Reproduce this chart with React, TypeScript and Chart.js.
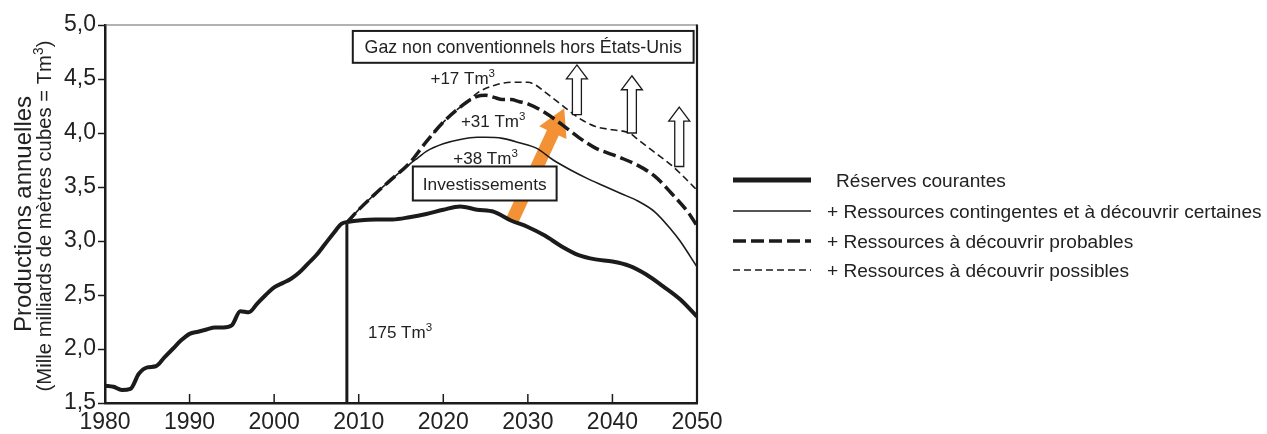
import React, { useEffect, useRef } from "react";
import { Chart, registerables } from "chart.js";

Chart.register(...registerables);

// ---------- DATA ----------
const reserveYears = [1980, 1981, 1982, 1983, 1984, 1985, 1986, 1987, 1988, 1989, 1990, 1991, 1992, 1993, 1994, 1995, 1996, 1997, 1998, 1999, 2000, 2001, 2002, 2003, 2004, 2005, 2006, 2007, 2008, 2009, 2010, 2012, 2014, 2016, 2018, 2020, 2022, 2024, 2026, 2028, 2030, 2032, 2034, 2036, 2038, 2040, 2042, 2044, 2046, 2048, 2050];
const reserveValues = [1.66, 1.65, 1.62, 1.63, 1.77, 1.83, 1.84, 1.92, 2.0, 2.08, 2.14, 2.16, 2.18, 2.2, 2.2, 2.22, 2.35, 2.34, 2.42, 2.5, 2.57, 2.61, 2.65, 2.71, 2.79, 2.87, 2.97, 3.07, 3.16, 3.18, 3.19, 3.2, 3.2, 3.22, 3.25, 3.29, 3.32, 3.29, 3.27, 3.19, 3.13, 3.05, 2.95, 2.87, 2.83, 2.81, 2.77, 2.69, 2.58, 2.46, 2.3];

const contYears = [2008.6, 2010, 2012, 2014, 2016, 2017, 2018, 2020, 2022, 2024, 2025, 2027, 2029, 2031, 2033, 2035, 2037, 2039, 2041, 2043, 2045, 2047, 2048, 2050];
const contValues = [3.17, 3.29, 3.44, 3.58, 3.71, 3.77, 3.83, 3.9, 3.94, 3.96, 3.96, 3.95, 3.91, 3.86, 3.75, 3.66, 3.58, 3.51, 3.44, 3.37, 3.27, 3.1, 3.0, 2.76];

const probYears = [2008.6, 2010, 2012, 2014, 2016, 2018, 2020, 2022, 2024, 2025, 2026, 2027, 2028, 2029, 2030, 2032, 2034, 2036, 2038, 2040, 2041, 2043, 2045, 2047, 2049, 2050];
const probValues = [3.17, 3.29, 3.44, 3.58, 3.72, 3.92, 4.1, 4.24, 4.34, 4.35, 4.33, 4.31, 4.31, 4.29, 4.27, 4.19, 4.08, 3.96, 3.86, 3.8, 3.77, 3.7, 3.6, 3.44, 3.26, 3.14];

const possYears = [2018, 2020, 2022, 2023, 2024, 2026, 2028, 2030, 2031, 2032, 2034, 2036, 2038, 2040, 2042, 2043, 2045, 2047, 2049, 2050];
const possValues = [3.92, 4.1, 4.24, 4.3, 4.37, 4.44, 4.47, 4.47, 4.44, 4.38, 4.26, 4.14, 4.06, 4.03, 4.0, 3.94, 3.82, 3.7, 3.55, 3.47];

const seriesLabels = [
  "Réserves courantes",
  "+ Ressources contingentes et à découvrir certaines",
  "+ Ressources à découvrir probables",
  "+ Ressources à découvrir possibles",
];

const xTickYears = [1980, 1990, 2000, 2010, 2020, 2030, 2040, 2050];
const yMin = 1.5;
const yMax = 5.0;
const yStep = 0.5;

const yTitle1 = "Productions annuelles";
const yTitle2 = "(Mille milliards de mètres cubes = Tm";
const boxTitle = "Gaz non conventionnels hors États-Unis";
const boxInvest = "Investissements";
const addLabels = ["+17 Tm", "+31 Tm", "+38 Tm"];
const reserveLabel = "175 Tm";
const cutoffYear = 2008.6;
const cutoffValue = 3.16;

// ---------- STYLE ----------
const FONT = '"Liberation Sans", Arial, Helvetica, sans-serif';
const INK = "#1b1b1b";
const ORANGE = "#F39135";

const pts = (xs: number[], ys: number[]) => xs.map((x, i) => ({ x, y: ys[i] }));

type Seg = { t: string; sup?: boolean };

function drawRich(ctx: CanvasRenderingContext2D, segs: Seg[], x: number, y: number, size: number, align: "left" | "center" | "right") {
  const supSize = size * 0.68;
  let total = 0;
  const widths = segs.map((s) => {
    ctx.font = `${s.sup ? supSize : size}px ${FONT}`;
    const w = ctx.measureText(s.t).width;
    total += w;
    return w;
  });
  let cx = align === "left" ? x : align === "center" ? x - total / 2 : x - total;
  ctx.textAlign = "left";
  ctx.textBaseline = "alphabetic";
  const base = y + size * 0.36;
  segs.forEach((s, i) => {
    ctx.font = `${s.sup ? supSize : size}px ${FONT}`;
    ctx.fillText(s.t, cx, s.sup ? base - size * 0.42 : base);
    cx += widths[i];
  });
}

function hollowArrow(ctx: CanvasRenderingContext2D, cx: number, tipY: number, bottomY: number) {
  const hw = 10.5, sw = 4.5, hl = 14;
  ctx.beginPath();
  ctx.moveTo(cx, tipY);
  ctx.lineTo(cx + hw, tipY + hl);
  ctx.lineTo(cx + sw, tipY + hl);
  ctx.lineTo(cx + sw, bottomY);
  ctx.lineTo(cx - sw, bottomY);
  ctx.lineTo(cx - sw, tipY + hl);
  ctx.lineTo(cx - hw, tipY + hl);
  ctx.closePath();
  ctx.fillStyle = "#fff";
  ctx.fill();
  ctx.strokeStyle = INK;
  ctx.lineWidth = 1.3;
  ctx.stroke();
}

const behindPlugin = {
  id: "behind",
  beforeDatasetsDraw(chart: any) {
    const { ctx, scales } = chart;
    const x = scales.x, y = scales.y;
    const tx = x.getPixelForValue(2028.2), ty = y.getPixelForValue(3.2);
    const hx = x.getPixelForValue(2034.3), hy = y.getPixelForValue(4.23);
    const dx = hx - tx, dy = hy - ty;
    const len = Math.hypot(dx, dy);
    const ux = dx / len, uy = dy / len;
    const nx = -uy, ny = ux;
    const sw = 6.5, hw = 15, hl = 27;
    const bx = hx - ux * hl, by = hy - uy * hl;
    ctx.save();
    ctx.beginPath();
    ctx.moveTo(tx + nx * sw, ty + ny * sw);
    ctx.lineTo(bx + nx * sw, by + ny * sw);
    ctx.lineTo(bx + nx * hw, by + ny * hw);
    ctx.lineTo(hx, hy);
    ctx.lineTo(bx - nx * hw, by - ny * hw);
    ctx.lineTo(bx - nx * sw, by - ny * sw);
    ctx.lineTo(tx - nx * sw, ty - ny * sw);
    ctx.closePath();
    ctx.fillStyle = ORANGE;
    ctx.fill();
    ctx.restore();
  },
};

const overlayPlugin = {
  id: "overlay",
  afterDatasetsDraw(chart: any) {
    const { ctx, chartArea: ca, scales } = chart;
    const x = scales.x, y = scales.y;
    const px = (v: number) => x.getPixelForValue(v);
    const py = (v: number) => y.getPixelForValue(v);
    ctx.save();

    // frame: top and right
    ctx.strokeStyle = "#666";
    ctx.lineWidth = 1.2;
    ctx.beginPath();
    ctx.moveTo(ca.left, ca.top);
    ctx.lineTo(ca.right, ca.top);
    ctx.stroke();
    ctx.strokeStyle = INK;
    ctx.lineWidth = 2.2;
    ctx.beginPath();
    ctx.moveTo(ca.right, ca.top - 0.6);
    ctx.lineTo(ca.right, ca.bottom);
    ctx.stroke();

    // x ticks pointing inward
    ctx.lineWidth = 1.5;
    xTickYears.slice(1, -1).forEach((v) => {
      const xx = px(v);
      ctx.beginPath();
      ctx.moveTo(xx, ca.bottom);
      ctx.lineTo(xx, ca.bottom - 9);
      ctx.stroke();
    });

    // vertical cutoff line
    ctx.lineWidth = 3;
    ctx.beginPath();
    ctx.moveTo(px(cutoffYear), py(cutoffValue));
    ctx.lineTo(px(cutoffYear), ca.bottom);
    ctx.stroke();

    // hollow arrows
    hollowArrow(ctx, px(2035.8), py(4.63), py(4.17));
    hollowArrow(ctx, px(2042.3), py(4.53), py(4.0));
    hollowArrow(ctx, px(2047.9), py(4.24), py(3.69));

    // boxes
    const box = (x0: number, y0: number, x1: number, y1: number, text: string, size: number) => {
      ctx.fillStyle = "#fff";
      ctx.fillRect(x0, y0, x1 - x0, y1 - y0);
      ctx.strokeStyle = INK;
      ctx.lineWidth = 2;
      ctx.strokeRect(x0, y0, x1 - x0, y1 - y0);
      ctx.fillStyle = "#222";
      drawRich(ctx, [{ t: text }], (x0 + x1) / 2, (y0 + y1) / 2, size, "center");
    };
    box(px(2009.3), py(4.945), px(2049.6), py(4.65), boxTitle, 17.8);
    box(px(2016.4), py(3.69), px(2033.4), py(3.375), boxInvest, 17.3);

    ctx.fillStyle = "#222";
    drawRich(ctx, [{ t: addLabels[0] }, { t: "3", sup: true }], px(2022.3), py(4.51), 17, "center");
    drawRich(ctx, [{ t: addLabels[1] }, { t: "3", sup: true }], px(2025.9), py(4.11), 17, "center");
    drawRich(ctx, [{ t: addLabels[2] }, { t: "3", sup: true }], px(2025.0), py(3.77), 17, "center");
    drawRich(ctx, [{ t: reserveLabel }, { t: "3", sup: true }], px(2011.1), py(2.16), 17, "left");

    // y title (two lines, rotated)
    const midY = (ca.top + ca.bottom) / 2;
    ctx.save();
    ctx.translate(22, midY);
    ctx.rotate(-Math.PI / 2);
    drawRich(ctx, [{ t: yTitle1 }], 0, 0, 24, "center");
    ctx.restore();
    ctx.save();
    ctx.translate(44, midY + 2);
    ctx.rotate(-Math.PI / 2);
    drawRich(ctx, [{ t: yTitle2 }, { t: "3", sup: true }, { t: ")" }], 0, 0, 20.3, "center");
    ctx.restore();

    // legend
    const rows = [180, 211, 241, 270];
    const datasets = chart.data.datasets;
    rows.forEach((ry, i) => {
      const ds = datasets[i];
      ctx.strokeStyle = INK;
      ctx.lineWidth = i === 0 ? 5 : ds.borderWidth;
      ctx.setLineDash(ds.borderDash || []);
      ctx.beginPath();
      ctx.moveTo(733, ry);
      ctx.lineTo(811, ry);
      ctx.stroke();
      ctx.setLineDash([]);
      ctx.fillStyle = "#222";
      drawRich(ctx, [{ t: seriesLabels[i] }], i === 0 ? 836 : 827, ry, 19.1, "left");
    });

    ctx.restore();
  },
};

export default function App() {
  const ref = useRef<HTMLCanvasElement | null>(null);

  useEffect(() => {
    if (!ref.current) return;
    const common = { pointRadius: 0, fill: false, cubicInterpolationMode: "monotone" as const, borderColor: INK };
    const chart = new Chart(ref.current, {
      type: "line",
      data: {
        datasets: [
          { ...common, label: seriesLabels[0], data: pts(reserveYears, reserveValues), borderWidth: 4 },
          { ...common, label: seriesLabels[1], data: pts(contYears, contValues), borderWidth: 1.6 },
          { ...common, label: seriesLabels[2], data: pts(probYears, probValues), borderWidth: 3.5, borderDash: [13, 5] },
          { ...common, label: seriesLabels[3], data: pts(possYears, possValues), borderWidth: 1.6, borderDash: [7, 4] },
        ],
      },
      options: {
        animation: false,
        responsive: true,
        maintainAspectRatio: false,
        events: [],
        layout: { padding: { left: 0, right: 570, top: 25, bottom: 0 } },
        plugins: { legend: { display: false }, tooltip: { enabled: false }, title: { display: false } },
        scales: {
          x: {
            type: "linear",
            min: 1980,
            max: 2050,
            afterFit: (s: any) => { s.height = 31; },
            afterBuildTicks: (s: any) => { s.ticks = xTickYears.map((v) => ({ value: v })); },
            ticks: {
              callback: (v: any) => String(v),
              color: "#222",
              font: { family: FONT, size: 23 },
              padding: 6,
              maxRotation: 0,
              autoSkip: false,
            },
            grid: { display: true, drawOnChartArea: false, drawTicks: false },
            border: { display: true, color: INK, width: 2.5 },
          },
          y: {
            min: yMin,
            max: yMax,
            afterFit: (s: any) => { s.width = 105; },
            ticks: {
              stepSize: yStep,
              callback: (v: any) => Number(v).toFixed(1).replace(".", ","),
              color: "#222",
              font: { family: FONT, size: 23 },
              padding: 2,
            },
            grid: { display: true, drawOnChartArea: false, drawTicks: true, tickLength: 7, tickColor: INK, tickWidth: 1.5 },
            border: { display: true, color: INK, width: 2.5 },
          },
        },
      },
      plugins: [behindPlugin, overlayPlugin],
    });
    return () => chart.destroy();
  }, []);

  return (
    <div style={{ position: "fixed", left: 0, top: 0, width: 1267, height: 434, background: "#fff" }}>
      <canvas ref={ref} />
    </div>
  );
}
